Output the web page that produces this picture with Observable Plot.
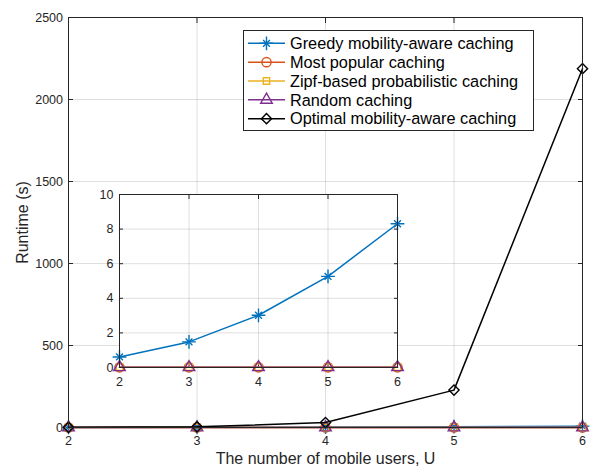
<!DOCTYPE html>
<html><head><meta charset="utf-8">
<script src="https://cdn.jsdelivr.net/npm/d3@7"></script>
<script src="https://cdn.jsdelivr.net/npm/@observablehq/plot@0.6"></script>
<style>
body{margin:0;background:#fff;}
#wrap{position:relative;width:590px;height:467px;font-family:"Liberation Sans",Arial,Helvetica,sans-serif;}
#main{position:absolute;left:0;top:0;}
#inset{position:absolute;left:89px;top:184px;}
#legend{position:absolute;left:243px;top:30px;}
</style></head><body>
<div id="wrap"><div id="main"></div><div id="inset"></div><div id="legend"></div></div>
<script>
// ---- data ----
const users = [2, 3, 4, 5, 6];
const greedy  = [0.61, 1.48, 3.02, 5.27, 8.31];
const popular = [0.01, 0.01, 0.01, 0.01, 0.01];
const zipf    = [0.01, 0.01, 0.01, 0.01, 0.01];
const random  = [0.01, 0.01, 0.01, 0.01, 0.01];
const optimal = [1, 4, 30, 228, 2188];
const seriesNames = ["Greedy mobility-aware caching", "Most popular caching", "Zipf-based probabilistic caching", "Random caching", "Optimal mobility-aware caching"];
const seriesColors = ["#0072BD", "#D95319", "#EDB120", "#7E2F8E", "#000000"];
const seriesSymbols = ["asterisk8", "circle", "square", "triangle", "diamond2"];
const mainYTicks = [0, 500, 1000, 1500, 2000, 2500];
const insetYTicks = [0, 2, 4, 6, 8, 10];
const xLabel = "The number of mobile users, U";
const yLabel = "Runtime (s)";

const FONT = '"Liberation Sans", Arial, Helvetica, sans-serif';
const AX = "#262626";
const fmt = d3.format("d");
const values = [greedy, popular, zipf, random, optimal];
const series = seriesNames.map((name, k) => ({
  name, color: seriesColors[k], symbol: seriesSymbols[k],
  rows: users.map((u, i) => ({u, v: values[k][i]}))
}));

function symR(sym) { return sym === "triangle" ? 4.3 : sym === "square" ? 3.6 : 4.6; }
function dotMarks(rows, s) {
  const o = {x: "u", y: "v", stroke: s.color, strokeWidth: 1.4, fill: "none"};
  if (s.symbol === "asterisk8") return [
    Plot.dot(rows, {...o, symbol: "plus", r: 4.5}),
    Plot.dot(rows, {...o, symbol: "times", r: 3.2})
  ];
  return [Plot.dot(rows, {...o, symbol: s.symbol, r: symR(s.symbol)})];
}
function seriesMarks(list) {
  return list.flatMap(s => [
    Plot.line(s.rows, {x: "u", y: "v", stroke: s.color, strokeWidth: 1.5}),
    ...dotMarks(s.rows, s)
  ]);
}
function axesMarks(xt, yt, xgrid, ygrid, tl, padX, padY) {
  return [
    Plot.gridX(xgrid, {stroke: AX, strokeOpacity: 0.15, strokeWidth: 1}),
    Plot.gridY(ygrid, {stroke: AX, strokeOpacity: 0.15, strokeWidth: 1}),
    Plot.axisX(xt, {anchor: "bottom", tickSize: 0, tickPadding: padX, label: null, fill: AX, tickFormat: fmt}),
    Plot.axisY(yt, {anchor: "left", tickSize: 0, tickPadding: padY, label: null, fill: AX, tickFormat: fmt}),
    Plot.axisX(xt, {anchor: "bottom", tickSize: tl, dy: -tl, tickFormat: () => "", label: null, stroke: AX}),
    Plot.axisX(xt, {anchor: "top", tickSize: tl, dy: tl, tickFormat: () => "", label: null, stroke: AX}),
    Plot.axisY(yt, {anchor: "left", tickSize: tl, dx: tl, tickFormat: () => "", label: null, stroke: AX}),
    Plot.axisY(yt, {anchor: "right", tickSize: tl, dx: -tl, tickFormat: () => "", label: null, stroke: AX})
  ];
}

const mainPlot = Plot.plot({
  width: 590, height: 467,
  marginLeft: 68, marginRight: 8, marginTop: 17, marginBottom: 40,
  style: {fontFamily: FONT, fontSize: "12.5px", color: AX, background: "transparent", overflow: "visible"},
  x: {domain: [2, 6], label: null},
  y: {domain: [0, 2500], label: null},
  marks: [
    ...axesMarks(users, mainYTicks, [3, 4, 5], [500, 1000, 1500, 2000], 5, 8.5, 5.5),
    ...seriesMarks(series),
    Plot.frame({stroke: AX, strokeWidth: 1}),
    Plot.text([xLabel], {frameAnchor: "bottom", dy: 31, lineAnchor: "middle", textAnchor: "middle", fontSize: 16, fill: AX, text: d => d}),
    Plot.text([yLabel], {frameAnchor: "left", dx: -46, rotate: -90, lineAnchor: "middle", textAnchor: "middle", fontSize: 16, fill: AX, text: d => d})
  ]
});
document.getElementById("main").appendChild(mainPlot);

const insetPlot = Plot.plot({
  width: 318, height: 208,
  marginLeft: 30, marginRight: 10, marginTop: 10, marginBottom: 25,
  style: {fontFamily: FONT, fontSize: "12.5px", color: AX, background: "transparent", overflow: "visible"},
  x: {domain: [2, 6], label: null},
  y: {domain: [0, 10], label: null},
  marks: [
    Plot.frame({fill: "white", stroke: null}),
    ...axesMarks(users, insetYTicks, [3, 4, 5], [2, 4, 6, 8], 4, 9.5, 6),
    ...seriesMarks(series.slice(0, 4)),
    Plot.frame({stroke: AX, strokeWidth: 1})
  ]
});
document.getElementById("inset").appendChild(insetPlot);

// ---- legend ----
const LW = 291, LH = 101, rowH = 18.85;
const svg = d3.select("#legend").append("svg").attr("width", LW).attr("height", LH)
  .style("font-family", FONT).style("overflow", "visible");
svg.append("rect").attr("x", 0.5).attr("y", 0.5).attr("width", LW - 1).attr("height", LH - 1)
  .attr("fill", "white").attr("stroke", AX).attr("stroke-width", 1);
const symMap = {circle: d3.symbolCircle, square: d3.symbolSquare, triangle: d3.symbolTriangle, diamond2: d3.symbolDiamond2};
series.forEach((s, i) => {
  const cy = 13.3 + i * rowH;
  const g = svg.append("g");
  g.append("line").attr("x1", 5).attr("x2", 42).attr("y1", cy).attr("y2", cy)
    .attr("stroke", s.color).attr("stroke-width", 1.5);
  const gs = g.append("g").attr("transform", `translate(23.5,${cy})`)
    .attr("fill", "none").attr("stroke", s.color).attr("stroke-width", 1.4);
  if (s.symbol === "asterisk8") {
    gs.append("path").attr("d", d3.symbol(d3.symbolPlus, Math.PI * 4.5 * 4.5)());
    gs.append("path").attr("d", d3.symbol(d3.symbolTimes, Math.PI * 3.2 * 3.2)());
  } else {
    const r = symR(s.symbol);
    gs.append("path").attr("d", d3.symbol(symMap[s.symbol], Math.PI * r * r)());
  }
  g.append("text").attr("x", 47).attr("y", cy).attr("dy", "0.35em")
    .attr("font-size", 16.3).attr("fill", "#000").text(s.name);
});
</script>
</body></html>
